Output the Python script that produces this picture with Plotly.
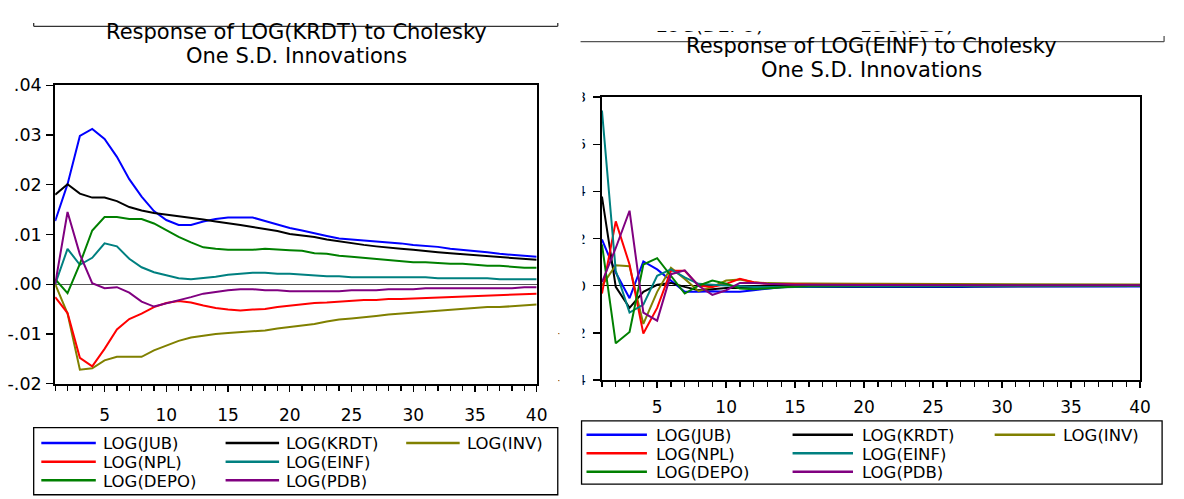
import plotly.graph_objects as go

W, H = 1184, 499

periods = list(range(1, 41))
series_names = ["LOG(JUB)", "LOG(KRDT)", "LOG(INV)", "LOG(NPL)", "LOG(EINF)", "LOG(DEPO)", "LOG(PDB)"]
series_colors = ["#0000FF", "#000000", "#808000", "#FF0000", "#008080", "#008000", "#800080"]

# ---- Response of LOG(KRDT) (values in units of 0.01) ----
krdt_jub = [1.27, 2.01, 2.98, 3.12, 2.92, 2.56, 2.11, 1.76, 1.47, 1.29, 1.19, 1.19, 1.26, 1.31, 1.34, 1.34, 1.34, 1.27, 1.20, 1.13,
            1.08, 1.02, 0.97, 0.92, 0.90, 0.89, 0.87, 0.85, 0.82, 0.79, 0.77, 0.75, 0.71, 0.69, 0.67, 0.64, 0.61, 0.59, 0.57, 0.55]
krdt_krdt = [1.80, 2.01, 1.82, 1.74, 1.74, 1.67, 1.55, 1.48, 1.43, 1.40, 1.36, 1.33, 1.30, 1.26, 1.23, 1.19, 1.15, 1.11, 1.07, 1.01,
             0.98, 0.95, 0.90, 0.86, 0.82, 0.79, 0.76, 0.73, 0.71, 0.69, 0.66, 0.64, 0.62, 0.60, 0.59, 0.57, 0.55, 0.53, 0.51, 0.49]
krdt_inv = [0.00, -0.59, -1.72, -1.69, -1.53, -1.46, -1.46, -1.46, -1.33, -1.24, -1.14, -1.07, -1.03, -1.00, -0.98, -0.96, -0.94, -0.93, -0.89, -0.86,
            -0.82, -0.80, -0.75, -0.71, -0.69, -0.67, -0.64, -0.61, -0.59, -0.57, -0.55, -0.53, -0.51, -0.50, -0.48, -0.46, -0.46, -0.44, -0.42, -0.41]
krdt_npl = [-0.26, -0.58, -1.48, -1.65, -1.30, -0.91, -0.70, -0.59, -0.46, -0.38, -0.34, -0.37, -0.43, -0.48, -0.51, -0.53, -0.51, -0.50, -0.46, -0.43,
            -0.40, -0.38, -0.37, -0.35, -0.34, -0.32, -0.32, -0.30, -0.30, -0.29, -0.27, -0.26, -0.25, -0.24, -0.23, -0.23, -0.21, -0.21, -0.19, -0.19]
krdt_einf = [0.00, 0.71, 0.39, 0.53, 0.82, 0.76, 0.51, 0.34, 0.24, 0.18, 0.12, 0.10, 0.12, 0.15, 0.19, 0.21, 0.23, 0.23, 0.21, 0.21,
             0.19, 0.18, 0.16, 0.16, 0.14, 0.14, 0.14, 0.14, 0.14, 0.14, 0.14, 0.12, 0.12, 0.12, 0.12, 0.12, 0.10, 0.10, 0.10, 0.10]
krdt_depo = [0.10, -0.18, 0.41, 1.08, 1.35, 1.35, 1.31, 1.31, 1.22, 1.09, 0.95, 0.84, 0.74, 0.71, 0.69, 0.69, 0.69, 0.71, 0.69, 0.68,
             0.67, 0.62, 0.61, 0.57, 0.55, 0.53, 0.51, 0.49, 0.46, 0.44, 0.44, 0.42, 0.41, 0.41, 0.39, 0.37, 0.37, 0.35, 0.33, 0.33]
krdt_pdb = [0.00, 1.45, 0.60, 0.02, -0.08, -0.06, -0.17, -0.35, -0.45, -0.39, -0.32, -0.26, -0.19, -0.15, -0.12, -0.10, -0.10, -0.12, -0.12, -0.14,
            -0.14, -0.14, -0.14, -0.14, -0.12, -0.12, -0.12, -0.10, -0.10, -0.10, -0.08, -0.08, -0.08, -0.08, -0.08, -0.08, -0.08, -0.08, -0.06, -0.06]

# ---- Response of LOG(EINF) (values in units of 0.01) ----
einf_jub = [1.96, 0.56, -0.53, 1.03, 0.69, 0.22, -0.26, -0.26, -0.23, -0.26, -0.26, -0.19, -0.12, -0.06, -0.05, -0.05, -0.05, -0.06, -0.07, -0.08,
            -0.08, -0.08, -0.08, -0.07, -0.06, -0.05, -0.05, -0.04, -0.04, -0.04, -0.04, -0.04, -0.04, -0.04, -0.03, -0.03, -0.03, -0.03, -0.03, -0.03]
einf_krdt = [3.78, -0.05, -0.94, -0.26, 0.04, 0.12, -0.05, -0.19, -0.15, -0.10, -0.10, -0.08, -0.06, -0.05, -0.04, -0.03, -0.03, -0.03, -0.03, -0.03,
             -0.02, -0.02, -0.02, -0.02, -0.02, -0.02, -0.02, -0.02, -0.02, -0.02, -0.01, -0.01, -0.01, -0.01, -0.01, -0.01, -0.01, -0.01, -0.01, -0.01]
einf_inv = [0.00, 0.87, 0.83, -1.62, -0.26, 0.76, 0.29, -0.23, -0.05, 0.22, 0.26, 0.15, 0.11, 0.09, 0.09, 0.09, 0.08, 0.08, 0.08, 0.08,
            0.08, 0.08, 0.08, 0.08, 0.08, 0.08, 0.08, 0.08, 0.08, 0.08, 0.07, 0.05, 0.05, 0.05, 0.05, 0.05, 0.05, 0.05, 0.05, 0.05]
einf_npl = [-0.33, 2.73, 0.90, -2.03, -0.94, 0.63, 0.63, 0.00, -0.05, 0.08, 0.29, 0.15, 0.08, 0.06, 0.05, 0.05, 0.04, 0.04, 0.04, 0.03,
            0.03, 0.03, 0.03, 0.03, 0.03, 0.03, 0.03, 0.03, 0.03, 0.03, 0.02, 0.02, 0.02, 0.02, 0.02, 0.02, 0.02, 0.02, 0.02, 0.02]
einf_einf = [7.43, 0.63, -1.14, -0.80, 0.42, 0.69, 0.35, 0.08, 0.04, 0.00, -0.03, -0.05, -0.05, -0.04, -0.03, -0.02, -0.02, -0.02, -0.02, -0.02,
             -0.02, -0.02, -0.02, -0.02, -0.01, -0.01, -0.01, -0.01, -0.01, -0.01, -0.01, -0.01, -0.01, -0.01, -0.01, -0.01, -0.01, -0.01, -0.01, -0.01]
einf_depo = [1.75, -2.44, -1.96, 0.90, 1.17, 0.42, -0.33, 0.00, 0.22, 0.08, -0.12, -0.15, -0.10, -0.05, -0.03, 0.00, 0.01, 0.02, 0.02, 0.02,
             0.02, 0.02, 0.02, 0.02, 0.02, 0.02, 0.02, 0.02, 0.02, 0.02, 0.01, 0.01, 0.01, 0.01, 0.01, 0.01, 0.01, 0.01, 0.01, 0.01]
einf_pdb = [0.15, 1.60, 3.18, -1.14, -1.48, 0.49, 0.65, 0.00, -0.39, -0.19, 0.12, 0.12, 0.08, 0.05, 0.04, 0.04, 0.03, 0.03, 0.03, 0.03,
            0.03, 0.03, 0.03, 0.03, 0.03, 0.03, 0.03, 0.03, 0.03, 0.03, 0.02, 0.02, 0.02, 0.02, 0.02, 0.02, 0.02, 0.02, 0.02, 0.02]

left_series = [krdt_jub, krdt_krdt, krdt_inv, krdt_npl, krdt_einf, krdt_depo, krdt_pdb]
right_series = [einf_jub, einf_krdt, einf_inv, einf_npl, einf_einf, einf_depo, einf_pdb]

left_tickvals = [-0.02, -0.01, 0.0, 0.01, 0.02, 0.03, 0.04]
left_ticktext = ["-.02", "-.01", ".00", ".01", ".02", ".03", ".04"]
right_tickvals = [-0.04, -0.02, 0.0, 0.02, 0.04, 0.06, 0.08]
right_ticktext = ["-.04", "-.02", ".00", ".02", ".04", ".06", ".08"]
x_tickvals = [5, 10, 15, 20, 25, 30, 35, 40]
x_ticktext = ["5", "10", "15", "20", "25", "30", "35", "40"]

left_title = ["Response of LOG(KRDT) to Cholesky", "One S.D. Innovations"]
right_title = ["Response of LOG(EINF) to Cholesky", "One S.D. Innovations"]
cut_legend_texts = ["LOG(DEPO)", "LOG(PDB)"]

FONT = "DejaVu Sans"


def px(x):
    return x / W


def py(y):
    return 1 - y / H


fig = go.Figure()

for name, color, vals in zip(series_names, series_colors, left_series):
    fig.add_trace(go.Scatter(x=periods, y=[v / 100 for v in vals], mode="lines", name=name,
                             line=dict(color=color, width=2), xaxis="x", yaxis="y", showlegend=False))
for name, color, vals in zip(series_names, series_colors, right_series):
    fig.add_trace(go.Scatter(x=periods, y=[v / 100 for v in vals], mode="lines", name=name,
                             line=dict(color=color, width=2), xaxis="x2", yaxis="y2", showlegend=False))

# partially hidden legend row of the panel above the right chart (clipped by its own subplot)
fig.add_trace(go.Scatter(x=[662, 868], y=[18, 18], mode="text", text=cut_legend_texts,
                         textposition="middle right", textfont=dict(family=FONT, size=19, color="black"),
                         cliponaxis=True, xaxis="x3", yaxis="y3", showlegend=False, hoverinfo="skip"))


def xaxis_cfg(domain, label_size, standoff):
    return dict(domain=domain, range=[1, 40], showline=True, linewidth=2, linecolor="black", mirror=True,
                ticks="outside", ticklen=6, tickwidth=1.3, tickcolor="black",
                tickvals=x_tickvals, ticktext=x_ticktext,
                minor=dict(tickvals=periods, ticks="outside", ticklen=5, tickwidth=1.3, tickcolor="black"),
                showgrid=False, zeroline=False, ticklabelstandoff=standoff,
                tickfont=dict(family=FONT, size=label_size, color="black"), fixedrange=True)


def yaxis_cfg(domain, rng, tv, tt, label_size, standoff, zc):
    return dict(domain=domain, range=rng, showline=True, linewidth=2, linecolor="black", mirror=True,
                ticks="outside", ticklen=7, tickwidth=1.3, tickcolor="black",
                tickvals=tv, ticktext=tt, showgrid=False,
                zeroline=True, zerolinecolor=zc, zerolinewidth=1, ticklabelstandoff=standoff,
                tickfont=dict(family=FONT, size=label_size, color="black"), fixedrange=True)


shapes = []
# white strip hiding the left part of the right chart's tick labels (cropped in the original)
shapes.append(dict(type="rect", xref="paper", yref="paper", x0=px(564.5), x1=px(588), y0=py(410), y1=py(70),
                   fillcolor="white", line=dict(width=0), layer="above"))
# top borders of the panels above
shapes.append(dict(type="line", xref="paper", yref="paper", x0=px(34), x1=px(563), y0=py(17), y1=py(17),
                   line=dict(color="#333333", width=1.3), layer="above"))
shapes.append(dict(type="line", xref="paper", yref="paper", x0=px(34), x1=px(34), y0=py(13.5), y1=py(17),
                   line=dict(color="#333333", width=1.3), layer="above"))
shapes.append(dict(type="line", xref="paper", yref="paper", x0=px(563), x1=px(563), y0=py(13.5), y1=py(17),
                   line=dict(color="#333333", width=1.3), layer="above"))
shapes.append(dict(type="line", xref="paper", yref="paper", x0=px(586), x1=px(1175), y0=py(33), y1=py(33),
                   line=dict(color="#555555", width=1.3), layer="above"))
shapes.append(dict(type="line", xref="paper", yref="paper", x0=px(1175), x1=px(1175), y0=py(27), y1=py(33),
                   line=dict(color="#555555", width=1.3), layer="above"))

# legend boxes
shapes.append(dict(type="rect", xref="paper", yref="paper", x0=px(34), x1=px(563), y0=py(505), y1=py(435),
                   line=dict(color="black", width=1.3), fillcolor="rgba(0,0,0,0)"))
shapes.append(dict(type="rect", xref="paper", yref="paper", x0=px(587), x1=px(1173), y0=py(494), y1=py(428),
                   line=dict(color="black", width=1.3), fillcolor="rgba(0,0,0,0)"))

annotations = []
legend_slots = [(0, 0), (0, 1), (0, 2), (1, 0), (1, 1), (2, 0), (2, 1)]
left_cols = [(41.7, 96.7, 103), (227.7, 281.7, 288), (410, 464, 470)]
left_rows = [451, 470.5, 490]
right_cols = [(592, 653, 661), (800, 861, 869), (1004, 1065, 1072)]
right_rows = [442.5, 461.8, 481]

for (r, c), name, color in zip(legend_slots, series_names, series_colors):
    for cols, rows, fsize in ((left_cols, left_rows, 16.5), (right_cols, right_rows, 16.5)):
        x0, x1, xt = cols[c]
        yy = rows[r]
        shapes.append(dict(type="line", xref="paper", yref="paper", x0=px(x0), x1=px(x1), y0=py(yy), y1=py(yy),
                           line=dict(color=color, width=2.5)))
        annotations.append(dict(xref="paper", yref="paper", x=px(xt), y=py(yy + 1), text=name, showarrow=False,
                                xanchor="left", yanchor="middle", borderpad=0,
                                font=dict(family=FONT, size=fsize, color="black")))

# titles
for line, yy in zip(left_title, [22.5, 47.5]):
    annotations.append(dict(xref="paper", yref="paper", x=px(299.5), y=py(yy), text=line, showarrow=False,
                            xanchor="center", yanchor="middle", borderpad=0,
                            font=dict(family=FONT, size=21, color="black")))
for line, yy in zip(right_title, [38, 63]):
    annotations.append(dict(xref="paper", yref="paper", x=px(880), y=py(yy), text=line, showarrow=False,
                            xanchor="center", yanchor="middle", borderpad=0,
                            font=dict(family=FONT, size=21, color="black")))

fig.update_layout(
    width=W, height=H, autosize=False,
    margin=dict(l=0, r=0, t=0, b=0, pad=0),
    paper_bgcolor="white", plot_bgcolor="white",
    font=dict(family=FONT, color="black"),
    xaxis=xaxis_cfg([px(55.7), px(541.7)], 17, 9),
    yaxis=yaxis_cfg([py(389.3), py(78.3)], [-0.02, 0.04], left_tickvals, left_ticktext, 17.5, 1, "#555555"),
    xaxis2=xaxis_cfg([px(607.6), px(1150.7)], 17, 5),
    yaxis2=yaxis_cfg([py(385.5), py(90.7)], [-0.04, 0.08], right_tickvals, right_ticktext, 14.5, 4, "black"),
    xaxis3=dict(domain=[0, 1], range=[0, W], visible=False, fixedrange=True),
    yaxis3=dict(domain=[py(27.5), py(22)], range=[27.5, 22], visible=False, fixedrange=True),
    shapes=shapes,
    annotations=annotations,
    hovermode=False,
)
fig.update_layout(yaxis2=dict(anchor="x2"), xaxis2=dict(anchor="y2"), xaxis3=dict(anchor="y3"), yaxis3=dict(anchor="x3"))

post = ("document.body.style.margin='0';document.body.style.overflow='hidden';"
        "document.documentElement.style.overflow='hidden';")
fig.write_html("out.html", config={"displayModeBar": False, "staticPlot": True}, post_script=post)
